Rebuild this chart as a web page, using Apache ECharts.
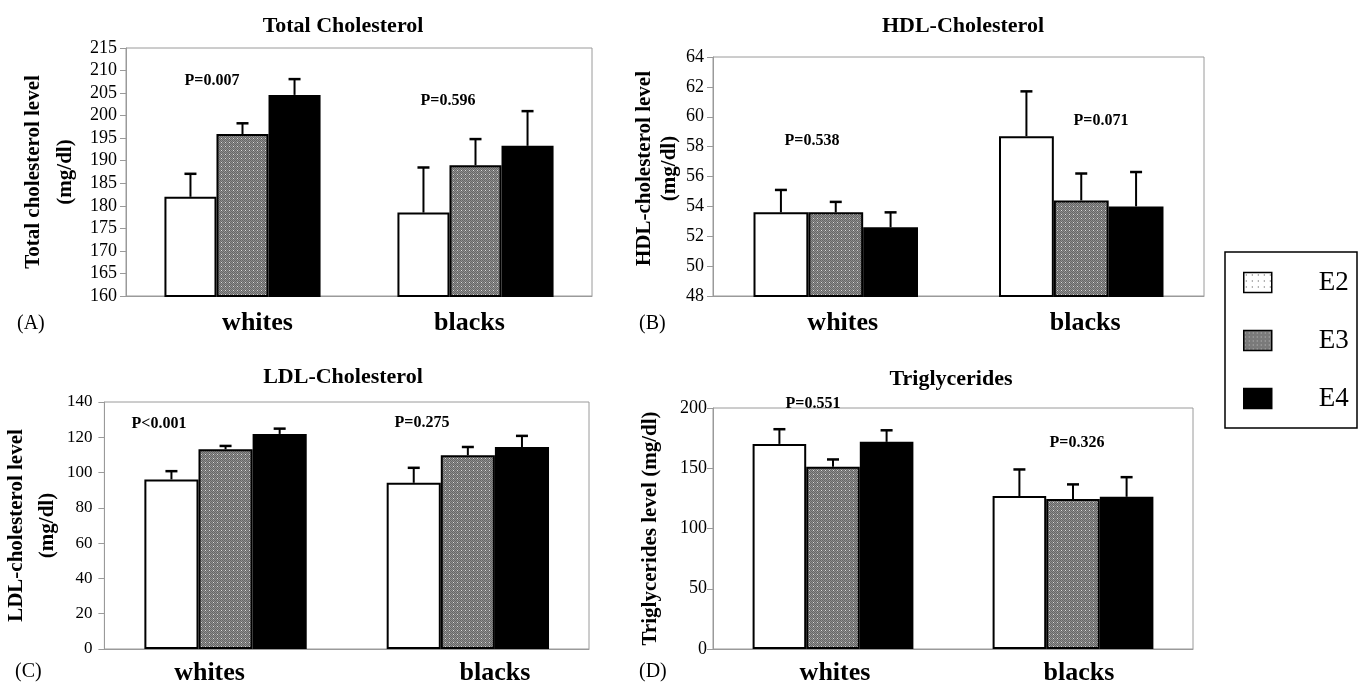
<!DOCTYPE html>
<html>
<head>
<meta charset="utf-8">
<script src="https://cdn.jsdelivr.net/npm/echarts@6/dist/echarts.min.js"></script>
<style>
html,body{margin:0;padding:0;background:#fff;}
#chart{width:1363px;height:687px;}
</style>
</head>
<body>
<div id="chart"></div>
<script>
// ---------- data ----------
const categories = ['whites', 'blacks'];
const genotypes = ['E2', 'E3', 'E4'];

// (A) Total cholesterol: means and upper error-bar ends
const tcE2 = [182.0, 178.5], tcE2Up = [187.1, 188.5];
const tcE3 = [195.9, 189.0], tcE3Up = [198.3, 194.8];
const tcE4 = [204.6, 193.3], tcE4Up = [208.1, 201.0];
const tcTicks = [160, 215, 5];
const tcP = ['P=0.007', 'P=0.596'];

// (B) HDL cholesterol
const hdlE2 = [53.6, 58.7], hdlE2Up = [55.1, 61.7];
const hdlE3 = [53.6, 54.4], hdlE3Up = [54.3, 56.2];
const hdlE4 = [52.6, 54.0], hdlE4Up = [53.6, 56.3];
const hdlTicks = [48, 64, 2];
const hdlP = ['P=0.538', 'P=0.071'];

// (C) LDL cholesterol
const ldlE2 = [96.1, 94.2], ldlE2Up = [100.8, 102.7];
const ldlE3 = [113.2, 109.8], ldlE3Up = [115.1, 114.5];
const ldlE4 = [121.9, 114.5], ldlE4Up = [124.9, 120.8];
const ldlTicks = [0, 140, 20];
const ldlP = ['P<0.001', 'P=0.275'];

// (D) Triglycerides
const tgE2 = [170.2, 126.9], tgE2Up = [182.4, 149.0];
const tgE3 = [151.2, 124.4], tgE3Up = [157.3, 136.6];
const tgE4 = [171.9, 126.3], tgE4Up = [181.5, 142.6];
const tgTicks = [0, 200, 50];
const tgP = ['P=0.551', 'P=0.326'];

const titles = ['Total Cholesterol', 'HDL-Cholesterol', 'LDL-Cholesterol', 'Triglycerides'];
const yNames = ['Total cholesterol level\n(mg/dl)', 'HDL-cholesterol level\n(mg/dl)', 'LDL-cholesterol level\n(mg/dl)', 'Triglycerides level (mg/dl)'];
const panelTags = ['(A)', '(B)', '(C)', '(D)'];

// ---------- styling / layout ----------
const SERIF = '"Liberation Serif", "Times New Roman", serif';
const GRAY = '#9a9a9a';

function makeCanvas(w, h, draw) {
  const c = document.createElement('canvas');
  c.width = w; c.height = h;
  draw(c.getContext('2d'));
  return c;
}
const e3Canvas = makeCanvas(4, 4, ctx => {
  ctx.fillStyle = '#8e8e8e'; ctx.fillRect(0, 0, 4, 4);
  ctx.fillStyle = '#666666';
  [[0,0],[2,0],[1,1],[3,1],[0,2],[2,2],[1,3],[3,3]].forEach(p => ctx.fillRect(p[0], p[1], 1, 1));
  ctx.fillStyle = '#d8d8d8';
  ctx.fillRect(1, 2, 1, 1);
});
const e2Canvas = makeCanvas(6, 6, ctx => {
  ctx.fillStyle = '#ffffff'; ctx.fillRect(0, 0, 6, 6);
  ctx.fillStyle = '#333';
  ctx.fillRect(2, 2, 1, 1);
});
const e3Fill = { image: e3Canvas, repeat: 'repeat' };
const e2Dots = { image: e2Canvas, repeat: 'repeat' };
const fills = ['#ffffff', e3Fill, '#000000'];

const panels = [
  { data: [tcE2, tcE3, tcE4], up: [tcE2Up, tcE3Up, tcE4Up], ticks: tcTicks, p: tcP,
    grid: { left: 126, top: 48, right: 771, bottom: 391 },
    labelShift: [15, -6], labelMargin: 14, tickMargin: 9, tickSize: 18,
    nameGap: 44, nameLH: 32, namePad: [0, 0, 0, 0],
    title: [338, 10], tag: [17, 314], pPos: [[212, 81], [448, 101]] },
  { data: [hdlE2, hdlE3, hdlE4], up: [hdlE2Up, hdlE3Up, hdlE4Up], ticks: hdlTicks, p: hdlP,
    grid: { left: 713, top: 57, right: 159, bottom: 391 },
    labelShift: [7, 4], labelMargin: 14, tickMargin: 9, tickSize: 18,
    nameGap: 19, nameLH: 25, namePad: [0, 0, 0, 16],
    title: [958, 10], tag: [639, 314], pPos: [[812, 141], [1101, 121]] },
  { data: [ldlE2, ldlE3, ldlE4], up: [ldlE2Up, ldlE3Up, ldlE4Up], ticks: ldlTicks, p: ldlP,
    grid: { left: 99, top: 402, right: 774, bottom: 38 },
    labelShift: [-16, 27], labelMargin: 11, tickMargin: 12, tickSize: 17,
    nameGap: 31, nameLH: 31, namePad: [0, 0, 0, 0],
    title: [338, 361], tag: [15, 662], pPos: [[159, 424], [422, 423]] },
  { data: [tgE2, tgE3, tgE4], up: [tgE2Up, tgE3Up, tgE4Up], ticks: tgTicks, p: tgP,
    grid: { left: 713, top: 408, right: 170, bottom: 38 },
    labelShift: [2, 6], labelMargin: 11, tickMargin: 6, tickSize: 18,
    nameGap: 50, nameLH: 24, namePad: [0, 0, 0, 0],
    title: [946, 363], tag: [639, 662], pPos: [[813, 404], [1077, 443]] }
];

const GROUP_FRACTION = 0.67;

function errRenderer(k) {
  return function (params, api) {
    const c = api.value(0), v = api.value(1), u = api.value(2);
    const band = api.size([1, 0])[0];
    const bw = band * GROUP_FRACTION / 3;
    const p0 = api.coord([c, v]);
    const p1 = api.coord([c, u]);
    const x = p0[0] + (k - 1) * bw;
    return {
      type: 'group',
      children: [
        { type: 'line', shape: { x1: x, y1: p0[1], x2: x, y2: p1[1] }, style: { stroke: '#000', lineWidth: 2 } },
        { type: 'line', shape: { x1: x - 6, y1: p1[1], x2: x + 6, y2: p1[1] }, style: { stroke: '#000', lineWidth: 2.5 } }
      ]
    };
  };
}

function padFor(s) { return s >= 0 ? [0, 0, 0, 2 * s] : [0, -2 * s, 0, 0]; }

const grids = [], xAxes = [], yAxes = [], series = [], titleOpts = [], graphics = [];

panels.forEach((P, gi) => {
  grids.push(Object.assign({ show: true, borderColor: GRAY, borderWidth: 1, backgroundColor: '#fff' }, P.grid));
  const rich = {};
  categories.forEach((c, i) => {
    rich['c' + i] = { fontFamily: SERIF, fontWeight: 'bold', fontSize: 26, color: '#000', padding: padFor(P.labelShift[i]) };
  });
  xAxes.push({
    type: 'category', gridIndex: gi, data: categories,
    axisLine: { lineStyle: { color: GRAY, width: 1 } },
    axisTick: { show: false },
    axisLabel: { margin: P.labelMargin, formatter: (v, i) => '{c' + i + '|' + v + '}', rich: rich }
  });
  yAxes.push({
    type: 'value', gridIndex: gi, min: P.ticks[0], max: P.ticks[1], interval: P.ticks[2],
    name: yNames[gi], nameLocation: 'middle', nameRotate: 90, nameGap: P.nameGap,
    nameTextStyle: { fontFamily: SERIF, fontWeight: 'bold', fontSize: 21, color: '#000', lineHeight: P.nameLH, padding: P.namePad },
    axisLine: { show: true, lineStyle: { color: GRAY, width: 1 } },
    axisTick: { show: true, length: 6, lineStyle: { color: GRAY } },
    splitLine: { show: false },
    axisLabel: { fontFamily: SERIF, fontSize: P.tickSize, color: '#000', margin: P.tickMargin }
  });
  genotypes.forEach((g, k) => {
    series.push({
      type: 'bar', name: g, xAxisIndex: gi, yAxisIndex: gi,
      data: P.data[k], barGap: 0, barCategoryGap: '33%',
      itemStyle: { color: fills[k], borderColor: '#000', borderWidth: 2 },
      emphasis: { disabled: true }, z: 2
    });
  });
  genotypes.forEach((g, k) => {
    series.push({
      type: 'custom', name: 'err-' + gi + '-' + g, xAxisIndex: gi, yAxisIndex: gi,
      renderItem: errRenderer(k),
      data: categories.map((c, i) => [i, P.data[k][i], P.up[k][i]]),
      encode: { x: 0, y: [1, 2] }, z: 3, silent: true
    });
  });
  titleOpts.push({
    text: titles[gi], left: P.title[0], top: P.title[1], textAlign: 'center',
    textStyle: { fontFamily: SERIF, fontWeight: 'bold', fontSize: 22, color: '#000' }
  });
  graphics.push({
    type: 'text', left: P.tag[0], top: P.tag[1],
    style: { text: panelTags[gi], font: '20px ' + SERIF, fill: '#000' }
  });
  P.p.forEach((t, i) => {
    graphics.push({
      type: 'text', x: P.pPos[i][0], y: P.pPos[i][1],
      style: { text: t, font: 'bold 16px ' + SERIF, fill: '#000', align: 'center', verticalAlign: 'middle' }, z: 10
    });
  });
});

// legend frame
graphics.push({
  type: 'rect', shape: { x: 1225, y: 252, width: 132, height: 176 },
  style: { fill: '#fff', stroke: '#000', lineWidth: 1.5 }, z: -1
});

const option = {
  animation: false,
  backgroundColor: '#fff',
  title: titleOpts,
  grid: grids,
  xAxis: xAxes,
  yAxis: yAxes,
  series: series,
  graphic: graphics,
  legend: {
    orient: 'vertical', left: 1238, top: 264,
    icon: 'rect',
    itemWidth: 28, itemHeight: 20, itemGap: 31,
    selectedMode: false,
    data: [
      { name: 'E2', itemStyle: { color: e2Dots, borderColor: '#000', borderWidth: 1.5 } },
      { name: 'E3', itemStyle: { color: e3Fill, borderColor: '#000', borderWidth: 1.5 } },
      { name: 'E4', itemStyle: { color: '#000', borderColor: '#000', borderWidth: 1.5 } }
    ],
    textStyle: { fontFamily: SERIF, fontSize: 27, color: '#000', lineHeight: 20, padding: [0, 0, 0, 42] }
  }
};

const chart = echarts.init(document.getElementById('chart'), null, { renderer: 'canvas' });
chart.setOption(option);
</script>
</body>
</html>
